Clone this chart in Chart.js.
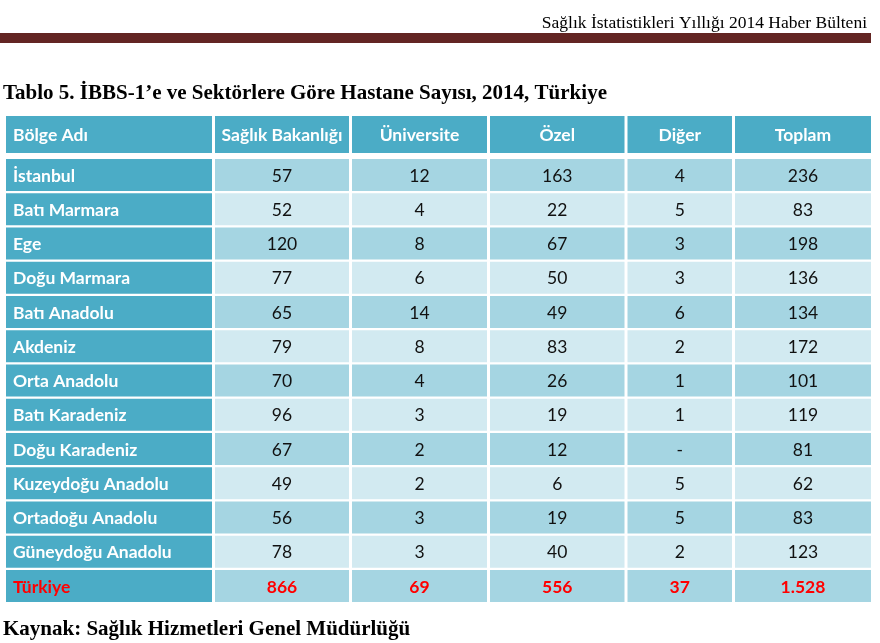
<!DOCTYPE html>
<html>
<head>
<meta charset="utf-8">
<script src="https://cdn.jsdelivr.net/npm/chart.js@4/dist/chart.umd.min.js"></script>
<style>
  body { margin: 0; background: #fff; }
  canvas { display: block; }
</style>
</head>
<body>
<canvas id="myChart" width="880" height="643"></canvas>
<script>
// table data
let columns = ['Bölge Adı', 'Sağlık Bakanlığı', 'Üniversite', 'Özel', 'Diğer', 'Toplam'];
let regions = ['İstanbul', 'Batı Marmara', 'Ege', 'Doğu Marmara', 'Batı Anadolu', 'Akdeniz',
    'Orta Anadolu', 'Batı Karadeniz', 'Doğu Karadeniz', 'Kuzeydoğu Anadolu', 'Ortadoğu Anadolu', 'Güneydoğu Anadolu'];
let saglik = [57, 52, 120, 77, 65, 79, 70, 96, 67, 49, 56, 78];
let universite = [12, 4, 8, 6, 14, 8, 4, 3, 2, 2, 3, 3];
let ozel = [163, 22, 67, 50, 49, 83, 26, 19, 12, 6, 19, 40];
let diger = [4, 5, 3, 3, 6, 2, 1, 1, null, 5, 5, 2];
let toplam = [236, 83, 198, 136, 134, 172, 101, 119, 81, 62, 83, 123];
let totalLabel = 'Türkiye';
let totals = [866, 69, 556, 37, 1528];

// layout (pixel units along the hidden x axis)
let colEdges = [0, 207.5, 344.5, 482.5, 620, 727.5, 865];
let tableWidth = 865;

let rowLabels = [...regions, totalLabel];
let valueCols = [saglik, universite, ozel, diger, toplam];

function fmt(v) {
    if (v === null || v === undefined) return '-';
    return String(v).replace(/\B(?=(\d{3})+(?!\d))/g, '.');
}

function cellText(c, r) {
    if (c === 0) return rowLabels[r];
    if (r === regions.length) return fmt(totals[c - 1]);
    return fmt(valueCols[c - 1][r]);
}

let datasets = [];
for (let c = 0; c < columns.length; c++) {
    let start = c === 0 ? 0 : colEdges[c] + 1.5;
    let end = c === columns.length - 1 ? tableWidth : colEdges[c + 1] - 1.5;
    datasets = [...datasets, {
        label: columns[c],
        data: rowLabels.map(() => [start, end]),
        backgroundColor: rowLabels.map((_, r) => c === 0 ? '#4BACC6' : (r % 2 === 0 ? '#A5D5E2' : '#D2EAF1')),
        borderWidth: 0,
        grouped: false,
        categoryPercentage: 1,
        barPercentage: 0.935
    }];
}

const bodyFont = 'Lato, "Open Sans", sans-serif';

let tablePlugin = {
    id: 'tablePlugin',
    beforeDraw(chart) {
        let c = chart.ctx;
        c.save();
        c.fillStyle = '#fff';
        c.fillRect(0, 0, chart.width, chart.height);
        // page header
        c.fillStyle = '#000';
        c.font = '17.5px "Liberation Serif", serif';
        c.textAlign = 'right';
        c.textBaseline = 'alphabetic';
        c.fillText('Sağlık İstatistikleri Yıllığı 2014 Haber Bülteni', 867, 28);
        c.fillStyle = '#632523';
        c.fillRect(0, 33, 871, 10);
        // title
        c.fillStyle = '#000';
        c.font = 'bold 21px "Liberation Serif", serif';
        c.textAlign = 'left';
        c.fillText('Tablo 5. İBBS-1’e ve Sektörlere Göre Hastane Sayısı, 2014, Türkiye', 3, 99);
        // source
        c.fillText('Kaynak: Sağlık Hizmetleri Genel Müdürlüğü', 3, 635);
        // header row
        let x = chart.scales.x;
        let top = chart.chartArea.top - 42;
        c.font = 'bold 17.5px ' + bodyFont;
        c.textBaseline = 'middle';
        for (let i = 0; i < columns.length; i++) {
            let s = x.getPixelForValue(i === 0 ? 0 : colEdges[i] + 1.5);
            let e = x.getPixelForValue(i === columns.length - 1 ? tableWidth : colEdges[i + 1] - 1.5);
            c.fillStyle = '#4BACC6';
            c.fillRect(s, top, e - s, 37);
            c.fillStyle = '#fff';
            if (i === 0) {
                c.textAlign = 'left';
                c.fillText(columns[i], s + 7, top + 19);
            } else {
                c.textAlign = 'center';
                c.fillText(columns[i], (s + e) / 2, top + 19);
            }
        }
        c.restore();
    },
    afterDatasetsDraw(chart) {
        let c = chart.ctx;
        let y = chart.scales.y;
        c.save();
        c.textBaseline = 'middle';
        chart.data.datasets.forEach((ds, ci) => {
            let meta = chart.getDatasetMeta(ci);
            meta.data.forEach((bar, r) => {
                let isTotal = r === regions.length;
                let cy = y.getPixelForValue(r) + 1;
                let left = Math.min(bar.x, bar.base);
                let right = Math.max(bar.x, bar.base);
                if (ci === 0) {
                    c.font = 'bold 17.5px ' + bodyFont;
                    c.fillStyle = isTotal ? '#FF0000' : '#fff';
                    c.textAlign = 'left';
                    c.fillText(cellText(ci, r), left + 7, cy);
                } else {
                    c.font = (isTotal ? 'bold ' : '') + '17.5px ' + bodyFont;
                    c.fillStyle = isTotal ? '#FF0000' : '#111';
                    c.textAlign = 'center';
                    c.fillText(cellText(ci, r), (left + right) / 2, cy);
                }
            });
        });
        c.restore();
    }
};

let ctx = document.getElementById('myChart').getContext('2d');

let myChart = new Chart(ctx, {
    type: 'bar',
    data: {
        labels: [...rowLabels],
        datasets: datasets
    },
    options: {
        indexAxis: 'y',
        responsive: false,
        animation: false,
        layout: {
            padding: { left: 6, right: 9, top: 158, bottom: 40 }
        },
        scales: {
            x: { type: 'linear', min: 0, max: tableWidth, display: false },
            y: { type: 'category', display: false }
        },
        plugins: {
            legend: { display: false },
            tooltip: { enabled: false }
        }
    },
    plugins: [tablePlugin]
});
</script>
</body>
</html>
